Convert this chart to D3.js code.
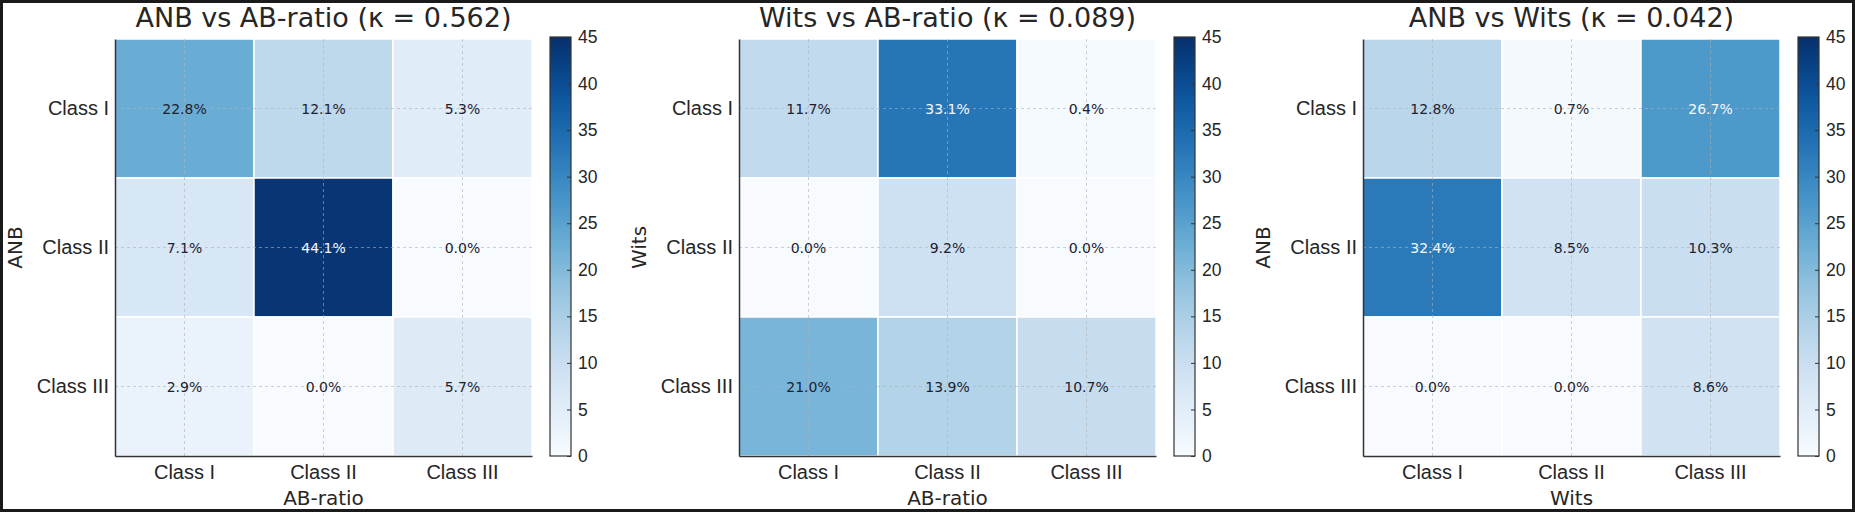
<!DOCTYPE html>
<html>
<head>
<meta charset="utf-8">
<script src="https://cdn.jsdelivr.net/npm/d3@7"></script>
<style>
	body { margin: 0; background: #fff; }
	svg { display: block; font-family: "DejaVu Sans", sans-serif; }
	.cell-text { font-size: 14px; }
	.tick-text { font-size: 20px; fill: #262626; }
	.axis-title { font-size: 20px; fill: #262626; }
	.panel-title { font-size: 27px; fill: #262626; }
	.cbar-text { font-size: 17.5px; fill: #262626; }
</style>
</head>
<body>
<svg id="chart" width="1855" height="513"></svg>
<script>
var classes = ["Class I", "Class II", "Class III"];
var cbarTicks = [0, 5, 10, 15, 20, 25, 30, 35, 40, 45];

var titles = ["ANB vs AB-ratio (\u03ba = 0.562)", "Wits vs AB-ratio (\u03ba = 0.089)", "ANB vs Wits (\u03ba = 0.042)"];
var yLabels = ["ANB", "Wits", "ANB"];
var xLabels = ["AB-ratio", "AB-ratio", "Wits"];

// rows = y classes, columns = x classes (percent)
var anbVsAb = [[22.8, 12.1, 5.3], [7.1, 44.1, 0.0], [2.9, 0.0, 5.7]];
var witsVsAb = [[11.7, 33.1, 0.4], [0.0, 9.2, 0.0], [21.0, 13.9, 10.7]];
var anbVsWits = [[12.8, 0.7, 26.7], [32.4, 8.5, 10.3], [0.0, 0.0, 8.6]];
var matrices = [anbVsAb, witsVsAb, anbVsWits];

var panelLeft = [115, 739, 1363];
var mapTop = 39, mapSize = 417;
var cbarOffset = 435, cbarWidth = 21, cbarTop = 37, cbarBottom = 456;
var vmax = 45;

var svg = d3.select("#chart");

// outer frame
svg.append("rect")
	.attr("x", 1.5).attr("y", 1.5)
	.attr("width", 1852).attr("height", 509)
	.attr("fill", "#fff")
	.attr("stroke", "#1a1a1a")
	.attr("stroke-width", 3);

var color = d3.scaleSequential(d3.interpolateBlues).domain([0, vmax]);

var defs = svg.append("defs");
var grad = defs.append("linearGradient")
	.attr("id", "blues-grad")
	.attr("x1", "0").attr("y1", "1").attr("x2", "0").attr("y2", "0");
d3.range(0, 1.0001, 0.05).forEach(function(t)
{
	grad.append("stop")
		.attr("offset", t)
		.attr("stop-color", d3.interpolateBlues(t));
});

function renderPanel(p)
{
	var data = matrices[p];
	var left = panelLeft[p];

	var xScale = d3.scaleBand().domain(classes).range([left, left + mapSize]);
	var yScale = d3.scaleBand().domain(classes).range([mapTop, mapTop + mapSize]);

	var g = svg.append("g").attr("class", "panel-" + p);

	var cells = [];
	for (var r = 0; r < data.length; r++)
	{
		for (var c = 0; c < data[r].length; c++)
		{
			cells.push({row: classes[r], col: classes[c], value: data[r][c]});
		}
	}

	g.selectAll("rect.cell")
		.data(cells).enter()
		.append("rect")
		.attr("class", "cell")
		.attr("x", function(d){ return xScale(d.col); })
		.attr("y", function(d){ return yScale(d.row); })
		.attr("width", xScale.bandwidth())
		.attr("height", yScale.bandwidth())
		.attr("fill", function(d){ return color(d.value); })
		.attr("stroke", "#fff")
		.attr("stroke-width", 1.5);

	// dashed grid through cell centres
	g.selectAll("line.vgrid")
		.data(classes).enter()
		.append("line")
		.attr("x1", function(d){ return xScale(d) + xScale.bandwidth() / 2; })
		.attr("x2", function(d){ return xScale(d) + xScale.bandwidth() / 2; })
		.attr("y1", mapTop)
		.attr("y2", mapTop + mapSize)
		.attr("stroke", "#b0b0b0")
		.attr("stroke-opacity", 0.6)
		.attr("stroke-dasharray", "3,3")
		.attr("stroke-width", 1);
	g.selectAll("line.hgrid")
		.data(classes).enter()
		.append("line")
		.attr("y1", function(d){ return yScale(d) + yScale.bandwidth() / 2; })
		.attr("y2", function(d){ return yScale(d) + yScale.bandwidth() / 2; })
		.attr("x1", left)
		.attr("x2", left + mapSize)
		.attr("stroke", "#b0b0b0")
		.attr("stroke-opacity", 0.6)
		.attr("stroke-dasharray", "3,3")
		.attr("stroke-width", 1);

	g.selectAll("text.cell-text")
		.data(cells).enter()
		.append("text")
		.attr("class", "cell-text")
		.attr("x", function(d){ return xScale(d.col) + xScale.bandwidth() / 2; })
		.attr("y", function(d){ return yScale(d.row) + yScale.bandwidth() / 2; })
		.attr("text-anchor", "middle")
		.attr("dominant-baseline", "central")
		.attr("fill", function(d){ return d.value > 25 ? "#f4f8ff" : "#1c2230"; })
		.text(function(d){ return d.value.toFixed(1) + "%"; });

	// axes: left and bottom only
	var xAxis = g.append("g")
		.attr("transform", "translate(0," + (mapTop + mapSize) + ")")
		.call(d3.axisBottom(xScale).tickSize(0).tickPadding(9));
	xAxis.select(".domain").attr("stroke", "#333").attr("stroke-width", 1.5);
	xAxis.selectAll("text").attr("class", "tick-text").attr("font-family", null).attr("font-size", null);

	var yAxis = g.append("g")
		.attr("transform", "translate(" + left + ",0)")
		.call(d3.axisLeft(yScale).tickSize(0).tickPadding(6));
	yAxis.select(".domain").attr("stroke", "#333").attr("stroke-width", 1.5);
	yAxis.selectAll("text").attr("class", "tick-text").attr("font-family", null).attr("font-size", null);

	g.append("text")
		.attr("class", "axis-title")
		.attr("x", left + mapSize / 2)
		.attr("y", 505)
		.attr("text-anchor", "middle")
		.text(xLabels[p]);

	g.append("text")
		.attr("class", "axis-title")
		.attr("transform", "translate(" + (left - 93) + "," + (mapTop + mapSize / 2) + ") rotate(-90)")
		.attr("text-anchor", "middle")
		.text(yLabels[p]);

	g.append("text")
		.attr("class", "panel-title")
		.attr("x", left + mapSize / 2)
		.attr("y", 27)
		.attr("text-anchor", "middle")
		.text(titles[p]);

	// colorbar
	var cx = left + cbarOffset;
	var cScale = d3.scaleLinear().domain([0, vmax]).range([cbarBottom, cbarTop]);
	g.append("rect")
		.attr("x", cx).attr("y", cbarTop)
		.attr("width", cbarWidth).attr("height", cbarBottom - cbarTop)
		.attr("fill", "url(#blues-grad)")
		.attr("stroke", "#333")
		.attr("stroke-width", 1.2);
	var cAxis = g.append("g")
		.attr("transform", "translate(" + (cx + cbarWidth) + ",0)")
		.call(d3.axisRight(cScale).tickValues(cbarTicks).tickSize(-4).tickPadding(7));
	cAxis.select(".domain").remove();
	cAxis.selectAll("line").attr("stroke", "#333");
	cAxis.selectAll("text").attr("class", "cbar-text").attr("font-family", null).attr("font-size", null);
}

for (var p = 0; p < matrices.length; p++)
{
	renderPanel(p);
}
</script>
</body>
</html>
